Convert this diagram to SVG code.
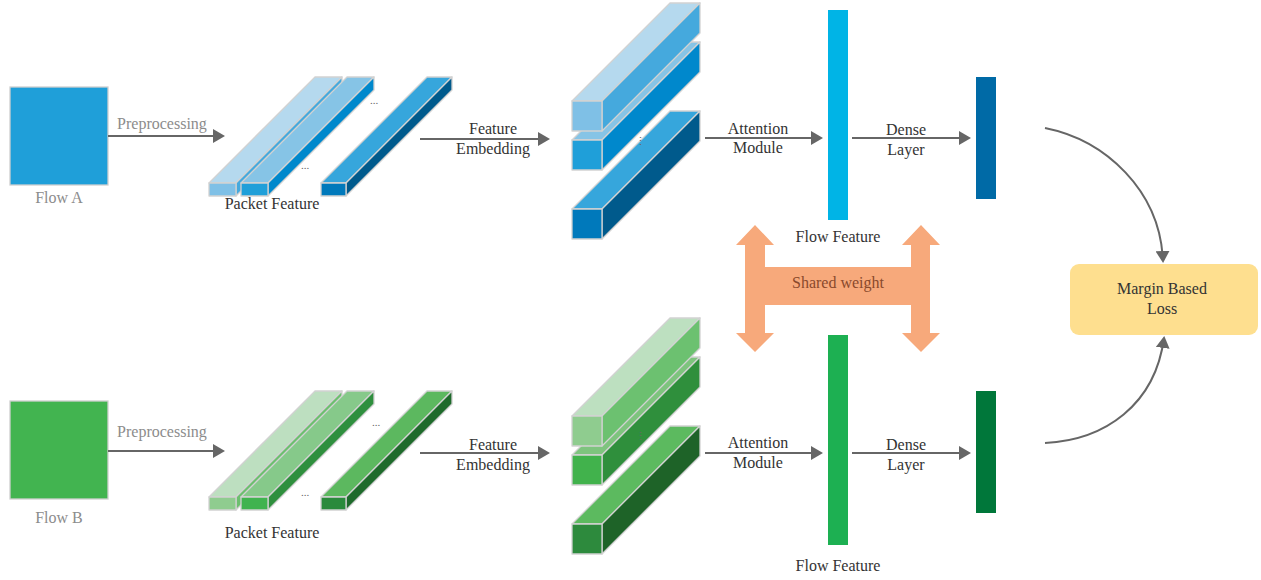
<svg xmlns="http://www.w3.org/2000/svg" width="1261" height="580" viewBox="0 0 1261 580">
  <style>
    text { font-family: "Liberation Serif", "DejaVu Serif", serif; font-size: 16px; fill: #333; text-anchor: middle; }
    .muted { fill: #8c8c8c; }
    .dots { font-size: 11px; fill: #666; }
    .shared { fill: #8a4a2c; }
    .edge { stroke: #666; stroke-width: 2; fill: none; }
    .face { stroke: #d2d2d2; stroke-width: 1.3; stroke-linejoin: round; }
  </style>
  <defs>
    <marker id="head" markerUnits="userSpaceOnUse" markerWidth="12" markerHeight="14" refX="0" refY="7" orient="auto">
      <path d="M0,0 L12,7 L0,14 z" fill="#666"/>
    </marker>
    <marker id="headTip" markerUnits="userSpaceOnUse" markerWidth="12" markerHeight="14" refX="10" refY="7" orient="auto">
      <path d="M0,0 L12,7 L0,14 z" fill="#666"/>
    </marker>
  </defs>

  <rect width="1261" height="580" fill="#fff"/>

  <!-- ===== Branch A (blue) ===== -->
  <g id="flowA">
    <rect x="10" y="87" width="98" height="98" fill="#1f9fd9" stroke="#cfcfcf" stroke-width="1.3"/>
    <text class="muted" x="59" y="203">Flow A</text>
  </g>

  <g id="packetA">
    <!-- bar 1 -->
    <polygon class="face" fill="#b5d9ee" points="209,183 315,77 342,77 236,183"/>
    <polygon class="face" fill="#45a9dd" points="236,183 342,77 342,90 236,196"/>
    <rect class="face" fill="#7fc0e6" x="209" y="183" width="27" height="13"/>
    <!-- bar 2 -->
    <polygon class="face" fill="#86c4e6" points="241,183 347,77 374,77 268,183"/>
    <polygon class="face" fill="#0088cc" points="268,183 374,77 374,90 268,196"/>
    <rect class="face" fill="#1f9fd9" x="241" y="183" width="27" height="13"/>
    <!-- bar 3 -->
    <polygon class="face" fill="#36a6dc" points="321,183 427,77 452,77 346,183"/>
    <polygon class="face" fill="#005a8c" points="346,183 452,77 452,90 346,196"/>
    <rect class="face" fill="#0079bb" x="321" y="183" width="25" height="13"/>
    <text class="dots" x="374" y="104">...</text>
    <text class="dots" x="305" y="169">...</text>
    <text x="272" y="209">Packet Feature</text>
  </g>

  <g id="embeddingA">
    <!-- bar 3 (lowest) -->
    <polygon class="face" fill="#36a6dc" points="572,209 670,111 700,111 602,209"/>
    <polygon class="face" fill="#005a8c" points="602,209 700,111 700,141 602,239"/>
    <rect class="face" fill="#0079bb" x="572" y="209" width="30" height="30"/>
    <!-- bar 2 -->
    <polygon class="face" fill="#86c4e6" points="572,140 670,42 700,42 602,140"/>
    <polygon class="face" fill="#0088cc" points="602,140 700,42 700,72 602,170"/>
    <rect class="face" fill="#1f9fd9" x="572" y="140" width="30" height="30"/>
    <!-- bar 1 (top) -->
    <polygon class="face" fill="#b5d9ee" points="572,101 670,3 700,3 602,101"/>
    <polygon class="face" fill="#45a9dd" points="602,101 700,3 700,33 602,131"/>
    <rect class="face" fill="#7fc0e6" x="572" y="101" width="30" height="30"/>
    <text class="dots" x="640" y="145" font-size="7">⋮</text>
  </g>

  <g id="flowFeatureA">
    <rect x="828" y="10" width="20" height="210" fill="#00b4e6"/>
    <text x="838" y="242">Flow Feature</text>
  </g>

  <g id="denseA">
    <rect x="976" y="77" width="20" height="122" fill="#006aa6"/>
  </g>

  <!-- ===== Branch B (green) ===== -->
  <g id="flowB">
    <rect x="10" y="401" width="98" height="98" fill="#42b450" stroke="#cfcfcf" stroke-width="1.3"/>
    <text class="muted" x="59" y="523">Flow B</text>
  </g>

  <g id="packetB">
    <polygon class="face" fill="#bddfc0" points="209,497 315,391 342,391 236,497"/>
    <polygon class="face" fill="#6cbf6f" points="236,497 342,391 342,404 236,510"/>
    <rect class="face" fill="#8fcc8f" x="209" y="497" width="27" height="13"/>
    <polygon class="face" fill="#86c98a" points="241,497 347,391 374,391 268,497"/>
    <polygon class="face" fill="#2f8f3e" points="268,497 374,391 374,404 268,510"/>
    <rect class="face" fill="#40b34f" x="241" y="497" width="27" height="13"/>
    <polygon class="face" fill="#5cb85f" points="321,497 427,391 452,391 346,497"/>
    <polygon class="face" fill="#1e6a2b" points="346,497 452,391 452,404 346,510"/>
    <rect class="face" fill="#2a8a3c" x="321" y="497" width="25" height="13"/>
    <text class="dots" x="376" y="426">...</text>
    <text class="dots" x="305" y="496">...</text>
    <text x="272" y="538">Packet Feature</text>
  </g>

  <g id="embeddingB">
    <polygon class="face" fill="#5cba5f" points="572,524 670,426 700,426 602,524"/>
    <polygon class="face" fill="#1e6328" points="602,524 700,426 700,456 602,554"/>
    <rect class="face" fill="#2d8a3d" x="572" y="524" width="30" height="30"/>
    <polygon class="face" fill="#7ec47e" points="572,455 670,357 700,357 602,455"/>
    <polygon class="face" fill="#2f8f3c" points="602,455 700,357 700,387 602,485"/>
    <rect class="face" fill="#41b24c" x="572" y="455" width="30" height="30"/>
    <polygon class="face" fill="#bde0c0" points="572,416 670,318 700,318 602,416"/>
    <polygon class="face" fill="#6cc170" points="602,416 700,318 700,348 602,446"/>
    <rect class="face" fill="#8fcc8f" x="572" y="416" width="30" height="30"/>
    <text class="dots" x="640" y="440" font-size="7">⋮</text>
  </g>

  <g id="flowFeatureB">
    <rect x="828" y="335" width="20" height="210" fill="#1db052"/>
    <text x="838" y="571">Flow Feature</text>
  </g>

  <g id="denseB">
    <rect x="976" y="391" width="20" height="122" fill="#00773a"/>
  </g>

  <!-- ===== Shared weight ===== -->
  <g id="sharedWeight">
    <path fill="#f7a97b" d="M755,225 L774,245 L765,245 L765,267 L911,267 L911,245 L902,245 L921,225 L940,245 L930,245
             L930,333 L940,333 L921,352 L902,333 L911,333 L911,305 L765,305 L765,333 L774,333 L755,352 L736,333 L745,333
             L745,245 L736,245 Z"/>
    <text class="shared" x="838" y="288">Shared weight</text>
  </g>

  <!-- ===== Loss ===== -->
  <g id="loss">
    <rect x="1070" y="264" width="188" height="71" rx="9" fill="#fedf8f"/>
    <text x="1162" y="294">Margin Based</text>
    <text x="1162" y="314">Loss</text>
  </g>

  <!-- ===== Connectors ===== -->
  <g id="connectors">
    <line class="edge" x1="108" y1="136" x2="213" y2="136" marker-end="url(#head)"/>
    <text class="muted" x="162" y="129">Preprocessing</text>
    <line class="edge" x1="420" y1="139" x2="538" y2="139" marker-end="url(#head)"/>
    <text x="493" y="134">Feature</text>
    <text x="493" y="154">Embedding</text>
    <line class="edge" x1="705" y1="138" x2="811" y2="138" marker-end="url(#head)"/>
    <text x="758" y="134">Attention</text>
    <text x="758" y="153">Module</text>
    <line class="edge" x1="852" y1="138" x2="959" y2="138" marker-end="url(#head)"/>
    <text x="906" y="135">Dense</text>
    <text x="906" y="155">Layer</text>

    <line class="edge" x1="108" y1="451" x2="213" y2="451" marker-end="url(#head)"/>
    <text class="muted" x="162" y="437">Preprocessing</text>
    <line class="edge" x1="420" y1="453" x2="538" y2="453" marker-end="url(#head)"/>
    <text x="493" y="450">Feature</text>
    <text x="493" y="470">Embedding</text>
    <line class="edge" x1="705" y1="453" x2="811" y2="453" marker-end="url(#head)"/>
    <text x="758" y="448">Attention</text>
    <text x="758" y="468">Module</text>
    <line class="edge" x1="852" y1="453" x2="959" y2="453" marker-end="url(#head)"/>
    <text x="906" y="450">Dense</text>
    <text x="906" y="470">Layer</text>

    <path class="edge" stroke-width="1.5" d="M1045,128 C1105,140 1160,190 1163,261" marker-end="url(#headTip)"/>
    <path class="edge" stroke-width="1.5" d="M1045,443 C1105,440 1155,405 1164,338" marker-end="url(#headTip)"/>
  </g>
</svg>
